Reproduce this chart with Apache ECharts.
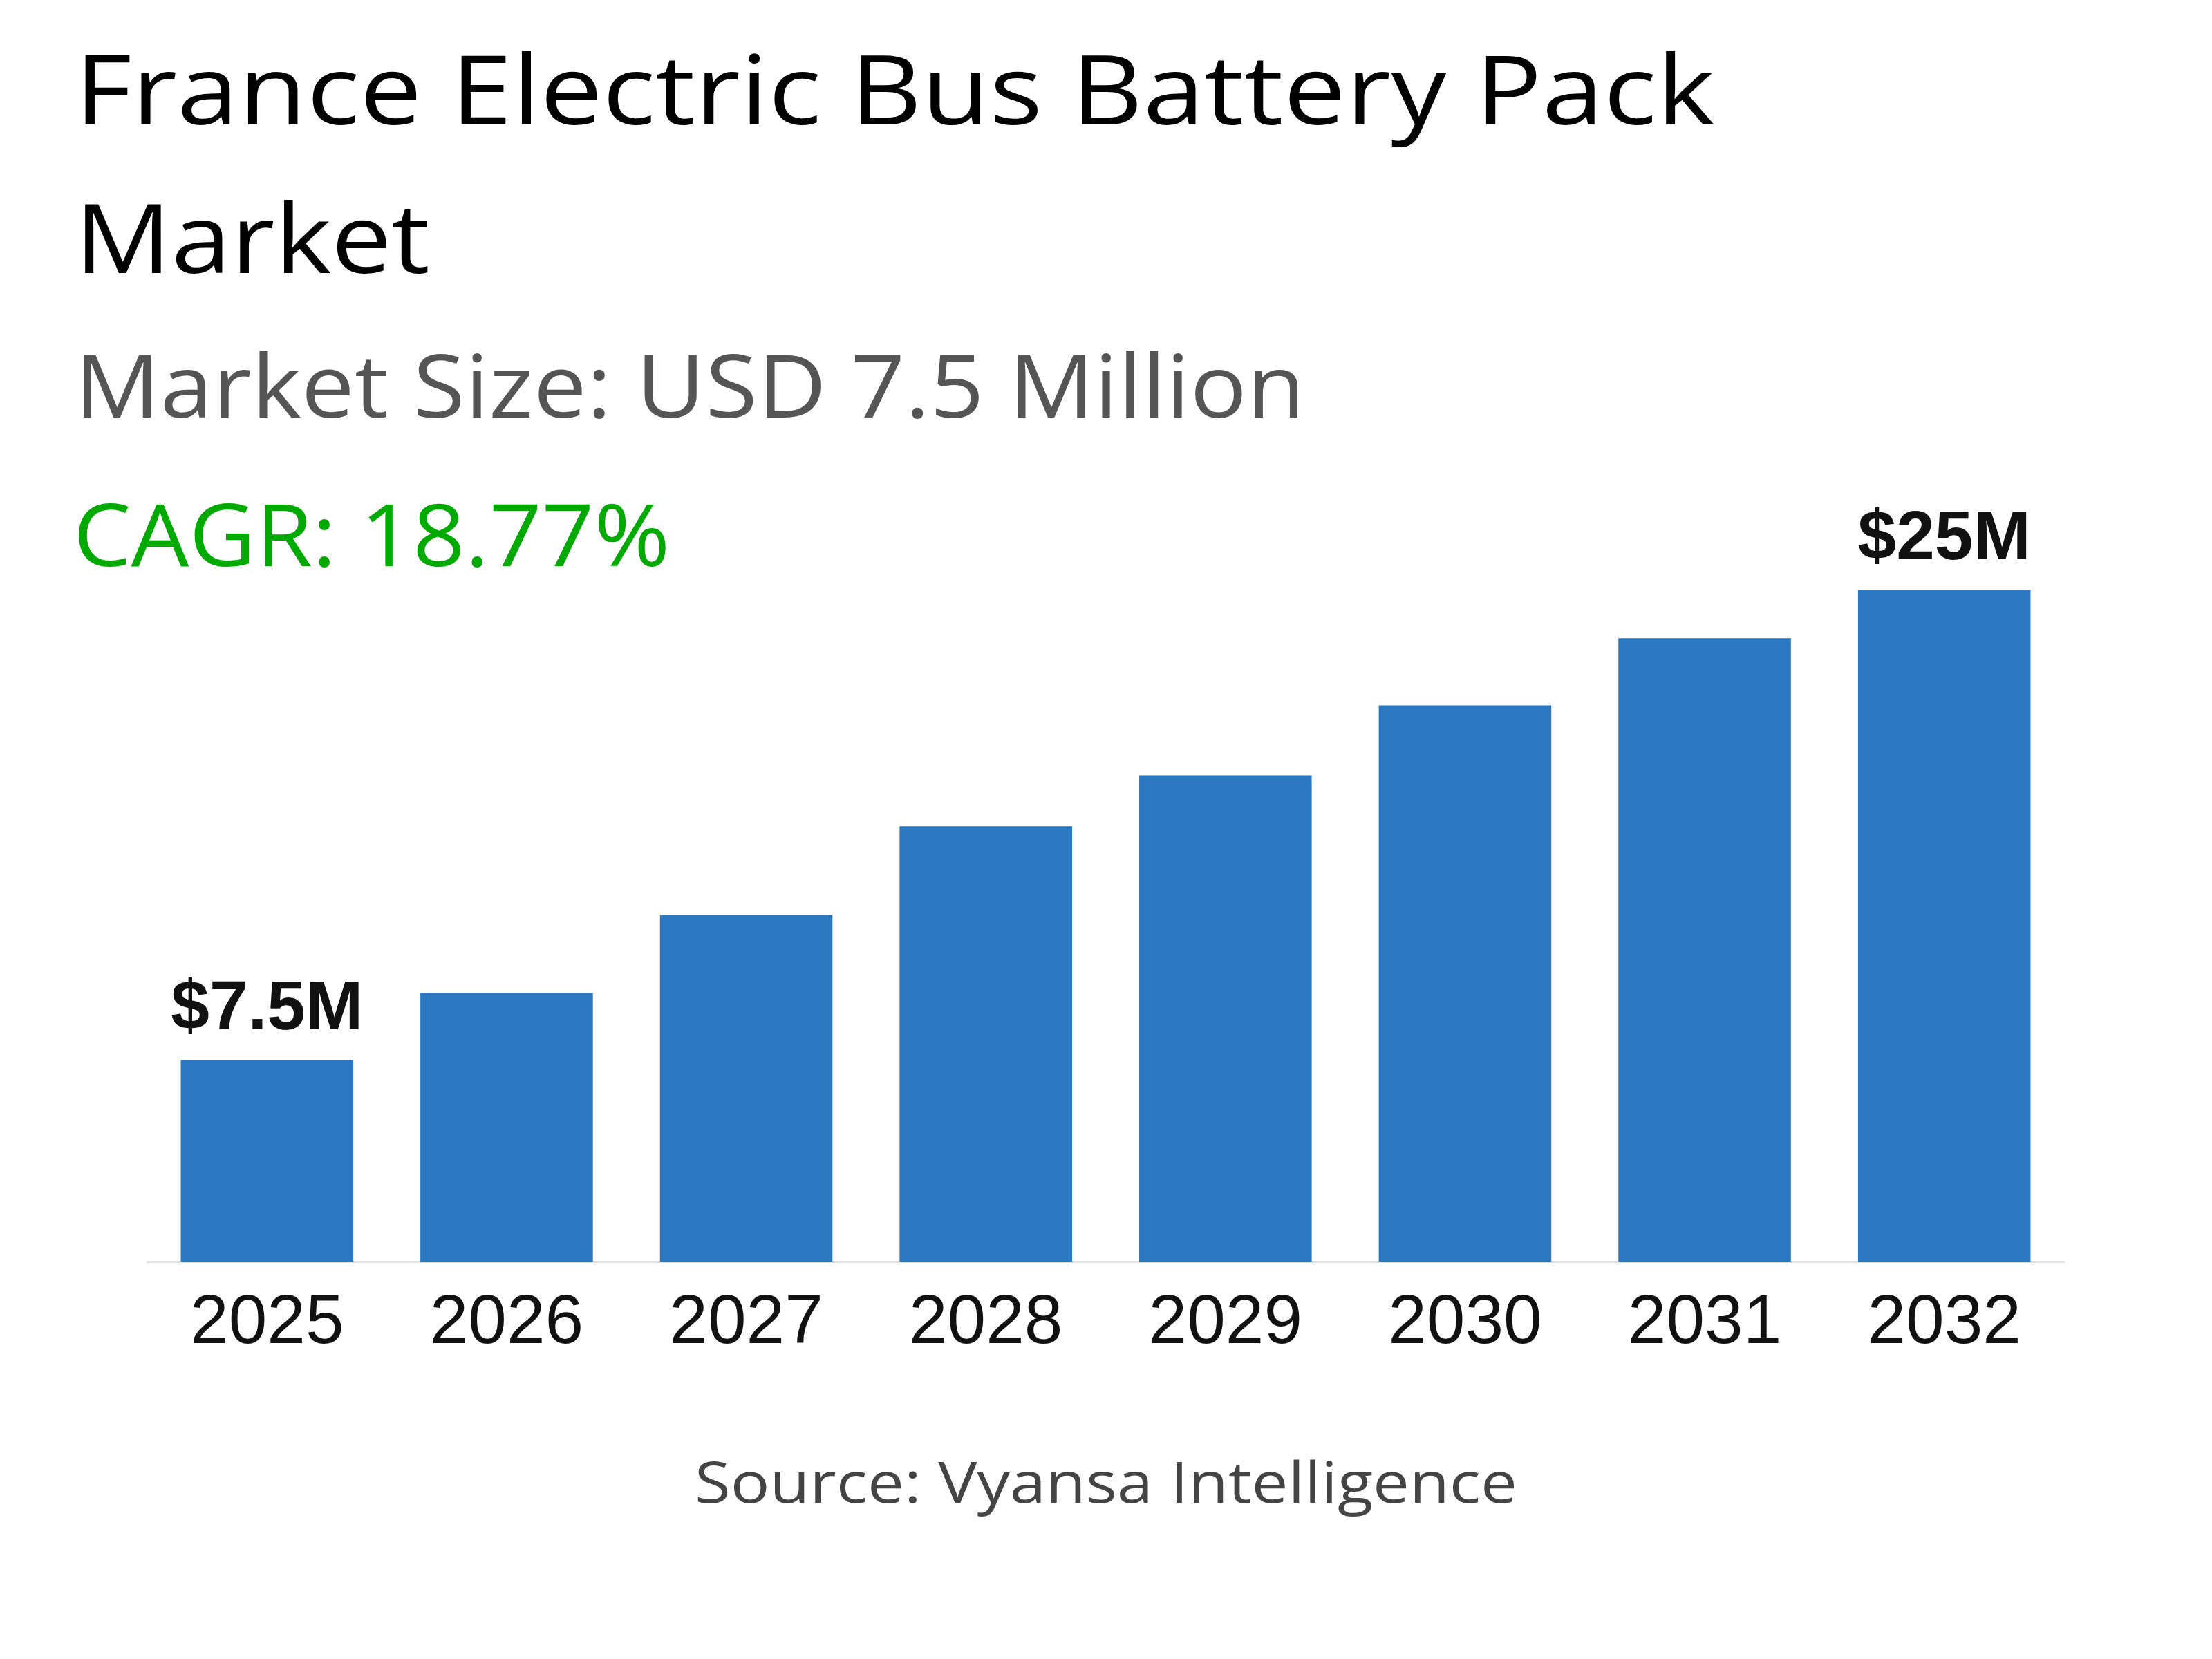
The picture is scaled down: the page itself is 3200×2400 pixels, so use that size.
<!DOCTYPE html>
<html><head><meta charset="utf-8">
<script src="https://cdn.jsdelivr.net/npm/echarts@6/dist/echarts.min.js"></script>
<style>html,body{margin:0;padding:0;background:#fff}#c{width:3200px;height:2400px}</style>
</head><body><div id="c"></div>
<script>
const categories = ['2025','2026','2027','2028','2029','2030','2031','2032'];
const values = [7.5, 10.0, 12.9, 16.2, 18.1, 20.7, 23.2, 25.0];
const labels = ['$7.5M','','','','','','','$25M'];
const titleLines = ['France Electric Bus Battery Pack', 'Market'];
const subtitle = 'Market Size: USD 7.5 Million';
const cagr = 'CAGR: 18.77%';
const source = 'Source: Vyansa Intelligence';

const chart = echarts.init(document.getElementById('c'), null, {renderer:'canvas'});
const headFont = '"Open Sans", "Noto Sans", sans-serif';
function txt(text, x, y, size, color, sx, align){
  return {type:'text', x:x, y:y, scaleX:sx, style:{text:text, font:size+'px '+headFont, fill:color,
    align:align||'left', verticalAlign:'top'}};
}
chart.setOption({
  backgroundColor:'#ffffff',
  animation:false,
  grid:{left:213, right:214, top:659, bottom:575, containLabel:false},
  xAxis:{type:'category', data:categories,
    axisLine:{show:true, lineStyle:{color:'#e0e0e0', width:3}},
    axisTick:{show:false},
    axisLabel:{color:'#111', fontSize:100, fontFamily:'"Liberation Sans", Arial, sans-serif', margin:40}},
  yAxis:{type:'value', min:0, max:30, show:false, splitLine:{show:false}},
  series:[{type:'bar', data:values, barCategoryGap:'28%', itemStyle:{color:'#2b78c0'},
    label:{show:true, position:'top', distance:22, color:'#111', fontSize:100, fontWeight:'bold',
      fontFamily:'"Liberation Sans", Arial, sans-serif',
      formatter:p=>labels[p.dataIndex]}}],
  graphic:[
    txt(titleLines[0], 108, 70, 140, '#000', 1.145),
    txt(titleLines[1], 108, 285, 140, '#000', 1.11),
    txt(subtitle, 108, 505, 126, '#555', 1.089),
    txt(cagr, 106, 722, 124, '#00aa00', 1.07),
    txt(source, 1600, 2110, 82, '#444', 1.15, 'center')
  ]
});
</script></body></html>
